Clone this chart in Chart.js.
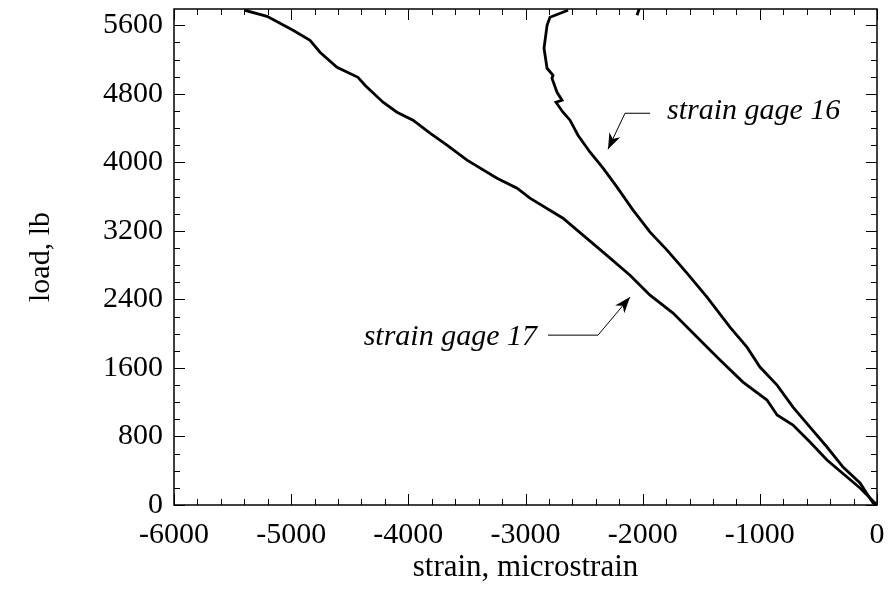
<!DOCTYPE html>
<html>
<head>
<meta charset="utf-8">
<script src="https://cdn.jsdelivr.net/npm/chart.js@4"></script>
<style>
  html, body { margin: 0; padding: 0; background: #fff; }
  #wrap { width: 888px; height: 592px; }
</style>
</head>
<body>
<div id="wrap"><canvas id="chart" width="888" height="592"></canvas></div>
<script>
// strain gage readings (microstrain) against load (lb)

const strain17 = [0, -145, -256, -427, -572, -717, -853, -939, -1144, -1340, -1511, -1741, -1937,
  -2108, -2338, -2560, -2680, -2962, -3072, -3243, -3499, -3670, -3815, -3960, -4097, -4216,
  -4370, -4430, -4609, -4754, -4839, -4984, -5206, -5394];
const load17 = [0, 198, 327, 525, 735, 933, 1050, 1225, 1435, 1692, 1925, 2240, 2450,
  2683, 2952, 3208, 3348, 3582, 3698, 3815, 4025, 4200, 4340, 4492, 4585, 4702,
  4900, 4993, 5110, 5285, 5425, 5542, 5705, 5775];

const strain16 = [0, -34, -145, -290, -427, -572, -717, -853, -999, -1110, -1255, -1451, -1622,
  -1792, -1937, -2082, -2219, -2338, -2449, -2552, -2620, -2680, -2740, -2688, -2731, -2774,
  -2765, -2816, -2842, -2816, -2791, -2637];
const load16 = [0, 23, 257, 443, 677, 910, 1143, 1400, 1610, 1843, 2077, 2427, 2707,
  2975, 3185, 3442, 3710, 3932, 4118, 4317, 4492, 4585, 4702, 4725, 4818, 4982,
  5017, 5098, 5332, 5600, 5693, 5775];

// short piece of gage 16 showing at the top edge
const strain16Tail = [-2048, -2023];
const load16Tail = [5717, 5820];

const xTicks = [-6000, -5000, -4000, -3000, -2000, -1000, 0];
const yTicks = [0, 800, 1600, 2400, 3200, 4000, 4800, 5600];

const serif = "'Liberation Serif', 'Times New Roman', serif";
const ink = '#000';

const zip = (xs, ys) => xs.map((x, i) => ({ x: x, y: ys[i] }));

// ── callouts, anchored in data units ──────────────────────────────────────
const callouts = [
  { text: 'strain gage 16', align: 'left',  textAt: [-1792, 4600], elbow: [-1937, -2151, 4573], tip: [-2296, 4153] },
  { text: 'strain gage 17', align: 'right', textAt: [-2902, 1960], elbow: [-2808, -2381, 1983], tip: [-2108, 2427] }
];

// ── inward ticks on all four sides + frame ────────────────────────────────
const framePlugin = {
  id: 'frame',
  afterDatasetsDraw(chart) {
    const { ctx, chartArea: a, scales: { x, y } } = chart;
    ctx.save();
    ctx.strokeStyle = ink;
    ctx.lineWidth = 1;
    ctx.beginPath();
    for (let v = -6000; v <= 0; v += 200) {
      const px = Math.round(x.getPixelForValue(v)) + 0.5;
      const len = v % 1000 === 0 ? 11 : 6;
      ctx.moveTo(px, a.bottom); ctx.lineTo(px, a.bottom - len);
      ctx.moveTo(px, a.top);    ctx.lineTo(px, a.top + len);
    }
    for (let v = 0; v <= y.max; v += 200) {
      const py = Math.round(y.getPixelForValue(v)) + 0.5;
      const len = v % 800 === 0 ? 11 : 6;
      ctx.moveTo(a.left, py);  ctx.lineTo(a.left + len, py);
      ctx.moveTo(a.right, py); ctx.lineTo(a.right - len, py);
    }
    ctx.stroke();
    ctx.lineWidth = 1.5;
    ctx.strokeRect(a.left, a.top, a.right - a.left, a.bottom - a.top);

    // callouts
    ctx.font = 'italic 30px ' + serif;
    ctx.fillStyle = ink;
    ctx.textBaseline = 'middle';
    callouts.forEach(c => {
      ctx.textAlign = c.align;
      ctx.fillText(c.text, x.getPixelForValue(c.textAt[0]), y.getPixelForValue(c.textAt[1]));
      const e1 = x.getPixelForValue(c.elbow[0]);
      const e2 = x.getPixelForValue(c.elbow[1]);
      const ey = y.getPixelForValue(c.elbow[2]);
      const tx = x.getPixelForValue(c.tip[0]);
      const ty = y.getPixelForValue(c.tip[1]);
      ctx.lineWidth = 1;
      ctx.beginPath();
      ctx.moveTo(e1, ey); ctx.lineTo(e2, ey); ctx.lineTo(tx, ty);
      ctx.stroke();
      const ang = Math.atan2(ty - ey, tx - e2);
      const L = 16, W = 6;
      const bx = tx - L * Math.cos(ang), by = ty - L * Math.sin(ang);
      const nx = tx - 0.7 * L * Math.cos(ang), ny = ty - 0.7 * L * Math.sin(ang);
      ctx.beginPath();
      ctx.moveTo(tx, ty);
      ctx.lineTo(bx + W * Math.sin(ang), by - W * Math.cos(ang));
      ctx.lineTo(nx, ny);
      ctx.lineTo(bx - W * Math.sin(ang), by + W * Math.cos(ang));
      ctx.closePath();
      ctx.fill();
    });
    ctx.restore();
  }
};

const line = (label, pts) => ({
  label: label,
  data: pts,
  borderColor: ink,
  borderWidth: 2.8,
  pointRadius: 0,
  tension: 0,
  fill: false
});

new Chart(document.getElementById('chart'), {
  type: 'line',
  data: {
    datasets: [
      line('strain gage 17', zip(strain17, load17)),
      line('strain gage 16', zip(strain16, load16)),
      line('strain gage 16 (top)', zip(strain16Tail, load16Tail))
    ]
  },
  options: {
    responsive: false,
    animation: false,
    layout: { padding: { top: 9, right: 11, left: 0, bottom: 0 } },
    plugins: { legend: { display: false }, tooltip: { enabled: false } },
    scales: {
      x: {
        type: 'linear',
        min: -6000, max: 0,
        afterBuildTicks: s => { s.ticks = xTicks.map(v => ({ value: v })); },
        afterFit: s => { s.height = 87; s.paddingLeft = 0; s.paddingRight = 0; },
        grid: { display: false, drawTicks: false },
        border: { display: false },
        ticks: { color: ink, padding: 12, font: { family: serif, size: 30 }, callback: v => String(v) },
        title: {
          display: true, text: 'strain, microstrain', color: ink,
          font: { family: serif, size: 31 }, padding: { top: 0, bottom: 6 }
        }
      },
      y: {
        type: 'linear',
        min: 0, max: 5790,
        afterBuildTicks: s => { s.ticks = yTicks.map(v => ({ value: v })); },
        afterFit: s => { s.width = 174; s.paddingTop = 0; s.paddingBottom = 0; },
        grid: { display: false, drawTicks: false },
        border: { display: false },
        ticks: { color: ink, padding: 11, font: { family: serif, size: 30 }, callback: v => String(v) },
        title: {
          display: true, text: 'load, lb', color: ink,
          font: { family: serif, size: 30 }, padding: { top: 23, bottom: 0 }
        }
      }
    }
  },
  plugins: [framePlugin]
});
</script>
</body>
</html>
